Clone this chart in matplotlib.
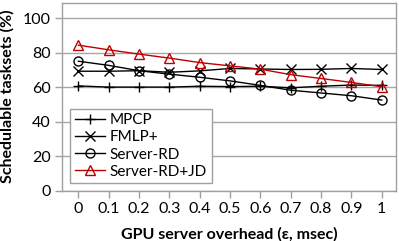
import matplotlib
matplotlib.use("Agg")
import matplotlib.pyplot as plt

overhead = ["0", "0.1", "0.2", "0.3", "0.4", "0.5", "0.6", "0.7", "0.8", "0.9", "1"]
mpcp = [60.7, 60.0, 60.0, 60.0, 60.5, 60.3, 60.5, 59.6, 60.5, 61.2, 61.0]
fmlp = [69.2, 69.2, 69.5, 68.6, 69.4, 70.8, 70.5, 70.2, 70.3, 70.8, 70.2]
server_rd = [75.0, 72.6, 69.5, 67.5, 65.7, 63.6, 61.0, 58.2, 56.6, 55.0, 52.5]
server_rd_jd = [84.3, 81.6, 79.1, 76.8, 74.2, 72.3, 70.4, 67.2, 65.0, 62.7, 60.2]

series = [
    ("MPCP", mpcp, "+", "black"),
    ("FMLP+", fmlp, "x", "black"),
    ("Server-RD", server_rd, "o", "black"),
    ("Server-RD+JD", server_rd_jd, "^", "#C00000"),
]

plt.rcParams['font.family'] = ['Lato', 'DejaVu Sans']

fig = plt.figure(figsize=(3.99, 2.41), dpi=100)
ax = fig.add_axes([0.1546, 0.2087, 0.8379, 0.7809])

xs = list(range(len(overhead)))
for name, vals, mk, col in series:
    ax.plot(xs, vals, color=col, lw=1.0, marker=mk, markersize=7 if mk in "+x" else 6.5,
            markerfacecolor='none', markeredgecolor=col, markeredgewidth=1.0, label=name)

ax.set_xlim(-0.55, 10.47)
ax.set_ylim(0, 109)
ax.set_yticks([0, 20, 40, 60, 80, 100])
ax.set_xticks(xs)
ax.set_xticklabels(overhead)
ax.grid(axis='y', color='#A6A6A6', lw=1.0)
ax.set_axisbelow(True)
for s in ax.spines.values():
    s.set_color('#A0A0A0')
    s.set_linewidth(1.0)
ax.tick_params(axis='both', colors='#A0A0A0', length=5, width=1.0, labelsize=11.5,
               labelcolor='black')
ax.tick_params(axis='x', pad=3)
ax.tick_params(axis='y', pad=3)

ax.set_xlabel("GPU server overhead (ε, msec)", fontsize=11.5, fontweight='bold', labelpad=8)
ax.set_ylabel("Schedulable tasksets (%)", fontsize=11.5, fontweight='bold', labelpad=6)

leg = ax.legend(loc='lower left', bbox_to_anchor=(0.025, 0.04), fontsize=11,
                frameon=True, fancybox=False, framealpha=1, edgecolor='#A0A0A0',
                handlelength=2.0, handletextpad=0.3, labelspacing=0.2,
                borderpad=0.3, borderaxespad=0)
leg.get_frame().set_linewidth(1.0)

fig.savefig("out.png", dpi=100)
